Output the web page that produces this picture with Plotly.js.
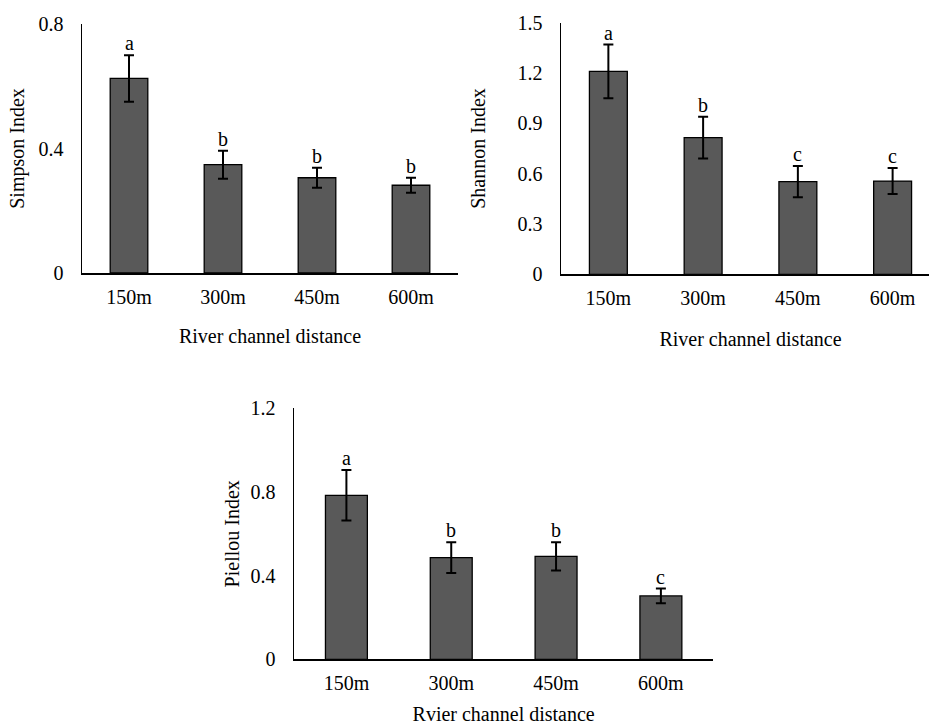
<!DOCTYPE html>
<html>
<head>
<meta charset="utf-8">
<script src="https://cdn.plot.ly/plotly-3.0.1.min.js"></script>
<style>
html, body { margin: 0; padding: 0; overflow: hidden; background: #fff; }
#chart { width: 945px; height: 725px; }
</style>
</head>
<body>
<div id="chart"></div>
<script>
// ---- Data ----
const categories = ['150m', '300m', '450m', '600m'];

const simpsonValues = [0.625, 0.348, 0.306, 0.282];
const simpsonErrors = [0.075, 0.045, 0.032, 0.024];
const simpsonLetters = ['a', 'b', 'b', 'b'];

const shannonValues = [1.21, 0.815, 0.552, 0.556];
const shannonErrors = [0.16, 0.124, 0.093, 0.077];
const shannonLetters = ['a', 'b', 'c', 'c'];

const pielouValues = [0.784, 0.486, 0.492, 0.303];
const pielouErrors = [0.121, 0.074, 0.068, 0.035];
const pielouLetters = ['a', 'b', 'b', 'c'];

const yTitles = ['Simpson Index', 'Shannon Index', 'Piellou Index'];
const xTitles = ['River channel distance', 'River channel distance', 'Rvier channel distance'];

// ---- Layout helpers ----
const W = 945, H = 725;
const FONT = 'Liberation Serif, Times New Roman, serif';
const FS = 20;
const px = (a, b) => [a / W, b / W];
const py = (top, bottom) => [1 - bottom / H, 1 - top / H];

const panels = [
  { vals: simpsonValues, errs: simpsonErrors, letters: simpsonLetters, xd: px(82, 458), yd: py(24, 273), range: [0, 0.8], dtick: 0.4, xts: 22, yts: 8 },
  { vals: shannonValues, errs: shannonErrors, letters: shannonLetters, xd: px(561, 940), yd: py(22.7, 274.3), range: [0, 1.5], dtick: 0.3, xts: 24, yts: 26 },
  { vals: pielouValues, errs: pielouErrors, letters: pielouLetters, xd: px(294, 713.3), yd: py(408.3, 659.3), range: [0, 1.2], dtick: 0.4, xts: 32, yts: 5 }
];

const traces = [];
const annotations = [];
const layout = {
  width: W, height: H,
  margin: { l: 0, r: 0, t: 0, b: 0 },
  paper_bgcolor: '#fff', plot_bgcolor: '#fff',
  showlegend: false,
  bargap: 0.6,
  font: { family: FONT, size: FS, color: '#000' },
  annotations: annotations
};

panels.forEach((p, i) => {
  const n = i === 0 ? '' : String(i + 1);
  traces.push({
    type: 'bar',
    x: categories,
    y: p.vals,
    xaxis: 'x' + n,
    yaxis: 'y' + n,
    marker: { color: '#595959', line: { color: '#000', width: 1.3 } },
    error_y: { type: 'data', array: p.errs, visible: true, color: '#000', thickness: 2, width: 5 },
    hoverinfo: 'none'
  });
  layout['xaxis' + n] = {
    domain: p.xd, anchor: 'y' + n,
    showline: true, linecolor: '#000', linewidth: 1.5,
    showgrid: false, zeroline: false, ticks: '',
    ticklabelstandoff: 5,
    tickfont: { family: FONT, size: FS, color: '#000' },
    title: { text: xTitles[i], font: { family: FONT, size: FS, color: '#000' }, standoff: p.xts }
  };
  layout['yaxis' + n] = {
    domain: p.yd, anchor: 'x' + n,
    range: p.range, dtick: p.dtick, tick0: 0,
    showline: true, linecolor: '#000', linewidth: 1.5,
    showgrid: false, zeroline: false, ticks: '',
    ticklabelstandoff: 13,
    tickfont: { family: FONT, size: FS, color: '#000' },
    title: { text: yTitles[i], font: { family: FONT, size: FS, color: '#000' }, standoff: p.yts }
  };
  categories.forEach((c, k) => {
    annotations.push({
      xref: 'x' + n, yref: 'y' + n,
      x: c, y: p.vals[k] + p.errs[k],
      text: p.letters[k],
      showarrow: false,
      yanchor: 'bottom',
      yshift: -1,
      font: { family: FONT, size: FS, color: '#000' }
    });
  });
});

Plotly.newPlot('chart', traces, layout, { staticPlot: true, displayModeBar: false });
</script>
</body>
</html>
